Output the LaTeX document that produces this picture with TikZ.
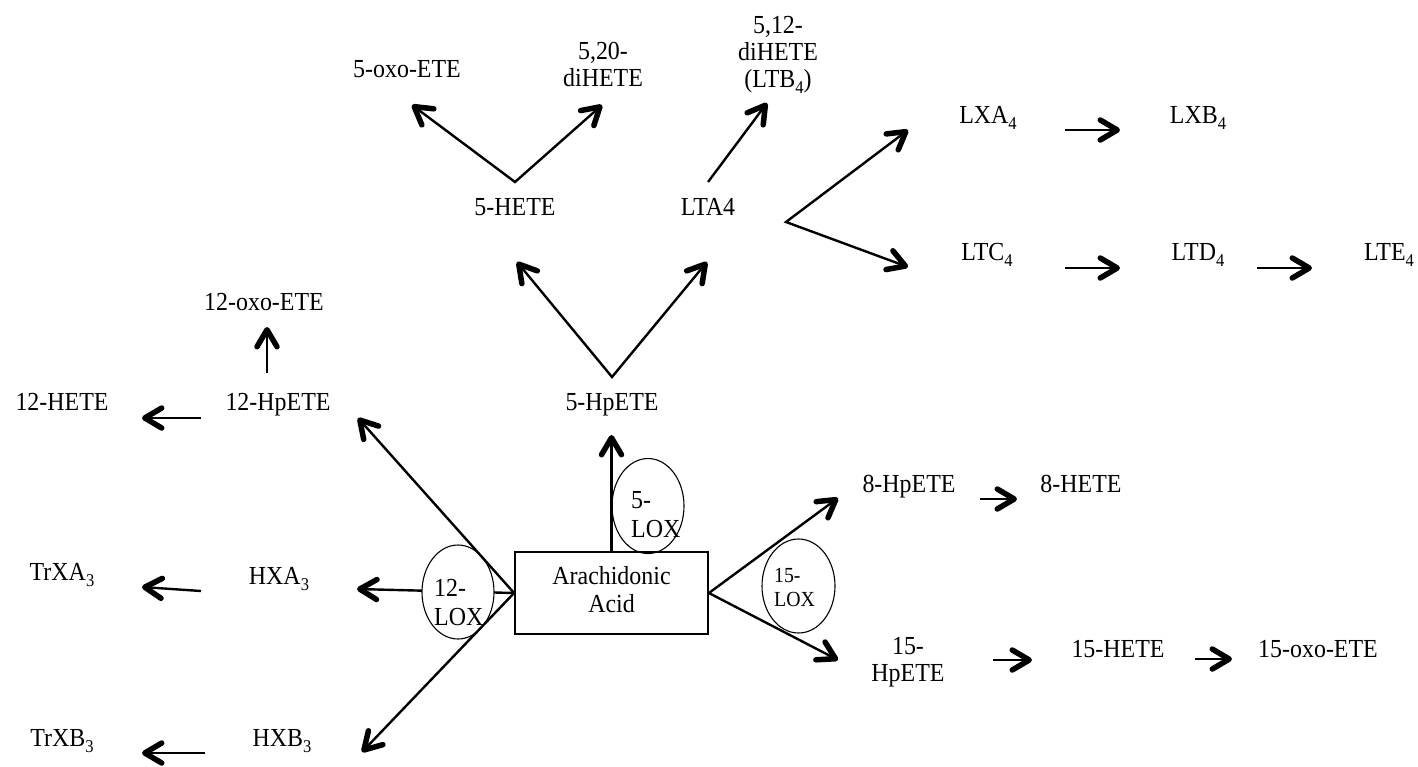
\documentclass[tikz,border=0pt]{standalone}
\usepackage{fontspec}
\setmainfont{Liberation Serif}[FakeStretch=0.92]
\usetikzlibrary{arrows.meta,shapes.geometric}
\newcommand\fA{\fontsize{26}{27}\selectfont}
\newcommand\fL{\fontsize{26}{29}\selectfont}
\newcommand\fS{\fontsize{21.5}{24}\selectfont}
\newcommand\fR{\fontsize{26}{28}\selectfont}
\newcommand\sbs[1]{\raisebox{-6pt}{\fontsize{18}{18}\selectfont #1}}
\begin{document}
\begin{tikzpicture}[x=1pt,y=-1pt,
  >={Straight Barb[length=17pt,width=20pt,line width=5.5pt,round]},
  lbl/.style={inner sep=0pt, align=center, font=\fA},
  loxtxt/.style={inner sep=0pt, align=left, anchor=west, font=\fL},
  lox/.style={draw, ellipse, line width=1.1pt, inner sep=0pt, minimum width=72pt, minimum height=95pt},
  arr/.style={line width=2.4pt, ->},
  varr/.style={line width=2.4pt, <->}]
\path[use as bounding box] (0,0) rectangle (1418,766);

% text nodes
\node[lbl] (oxo5) at (407,71.6) {5-oxo-ETE\strut};
\node[lbl] (dih520) at (603,68) {5,20-\strut\\diHETE\strut};
\node[lbl] (ltb4) at (778,54.6) {5,12-\strut\\diHETE\strut\\(LTB\sbs{4})\strut};
\node[lbl] (hete5) at (515,209.6) {5-HETE\strut};
\node[lbl] (lta4) at (708,209.6) {LTA4\strut};
\node[lbl] (lxa4) at (988,117.6) {LXA\sbs{4}\strut};
\node[lbl] (lxb4) at (1198,117.6) {LXB\sbs{4}\strut};
\node[lbl] (ltc4) at (987,254.6) {LTC\sbs{4}\strut};
\node[lbl] (ltd4) at (1198,254.6) {LTD\sbs{4}\strut};
\node[lbl] (lte4) at (1389,254.6) {LTE\sbs{4}\strut};
\node[lbl] (oxo12) at (264,304.6) {12-oxo-ETE\strut};
\node[lbl] (hete12) at (62,404.6) {12-HETE\strut};
\node[lbl] (hpete12) at (278,404.6) {12-HpETE\strut};
\node[lbl] (hpete5) at (612,404.6) {5-HpETE\strut};
\node[lbl] (trxa3) at (62,574.6) {TrXA\sbs{3}\strut};
\node[lbl] (hxa3) at (279,578.6) {HXA\sbs{3}\strut};
\node[lbl] (trxb3) at (62,740.6) {TrXB\sbs{3}\strut};
\node[lbl] (hxb3) at (282,740.6) {HXB\sbs{3}\strut};
\node[lbl] (hpete8) at (909,486.6) {8-HpETE\strut};
\node[lbl] (hete8) at (1081,486.6) {8-HETE\strut};
\node[lbl] (hpete15) at (908,663) {15-\strut\\HpETE\strut};
\node[lbl] (hete15) at (1118,651.6) {15-HETE\strut};
\node[lbl] (oxo15) at (1318,651.6) {15-oxo-ETE\strut};

% central box
\node[draw, line width=1.8pt, minimum width=193pt, minimum height=82pt, inner sep=0pt,
  align=center, font=\fR] (aa) at (611.5,593) {Arachidonic\strut\\Acid\strut};

% connector end points
\coordinate (t12hp) at (358,418);
\coordinate (thxa) at (357,589);
\coordinate (thxb) at (362,752);
\coordinate (t5hp) at (611.5,435);
\coordinate (t8hp) at (838,498);
\coordinate (t15hp) at (838,660);
\coordinate (v5) at (612,377);
\coordinate (v5l) at (517,262);
\coordinate (v5r) at (707,262);
\coordinate (v4) at (515,182);
\coordinate (v4l) at (412,105);
\coordinate (v4r) at (602,105);
\coordinate (a4s) at (708,182);
\coordinate (a4e) at (767,103);
\coordinate (v6) at (786,222);
\coordinate (v6u) at (908,130);
\coordinate (v6d) at (908,267);
\coordinate (a12us) at (267,373);
\coordinate (a12ue) at (267,327);
\coordinate (a12ls) at (201,418);
\coordinate (a12le) at (142,418);
\coordinate (axas) at (201,591);
\coordinate (axae) at (142,587);
\coordinate (axbs) at (205,753);
\coordinate (axbe) at (142,753);
\coordinate (lxs) at (1065,130);
\coordinate (lxe) at (1120,130);
\coordinate (lcs) at (1065,268);
\coordinate (lce) at (1120,268);
\coordinate (lds) at (1257,268);
\coordinate (lde) at (1312,268);
\coordinate (h8s) at (980,499);
\coordinate (h8e) at (1017,499);
\coordinate (h15s) at (993,660);
\coordinate (h15e) at (1032,660);
\coordinate (o15s) at (1195,659);
\coordinate (o15e) at (1232,659);

% 12-LOX branch (horizontal arrow hidden by the ellipse)
\draw[arr] (aa.west) -- (thxa);
\node[lox, fill=white, minimum height=94pt] (e12) at (458,592) {};
\draw[arr] (aa.west) -- (t12hp);
\draw[arr] (aa.west) -- (thxb);

% other enzyme ellipses
\node[lox] (e5) at (648,506) {};
\node[lox, minimum width=73pt, minimum height=94pt] (e15) at (798.5,586) {};
\node[loxtxt] (t5lox) at (631,517) {5-\strut\\LOX\strut};
\node[loxtxt] (t12lox) at (434,605) {12-\strut\\LOX\strut};
\node[loxtxt, font=\fS] (t15lox) at (774,590) {15-\strut\\LOX\strut};

% arrows from Arachidonic Acid
\draw[arr] (aa.north) -- (t5hp);
\draw[arr] (aa.east) -- (t8hp);
\draw[arr] (aa.east) -- (t15hp);

% 5-LOX pathway
\draw[varr] (v5l) -- (v5) -- (v5r);
\draw[varr] (v4l) -- (v4) -- (v4r);
\draw[arr] (a4s) -- (a4e);
\draw[varr] (v6u) -- (v6) -- (v6d);
\draw[arr] (lxs) -- (lxe);
\draw[arr] (lcs) -- (lce);
\draw[arr] (lds) -- (lde);

% 12-LOX pathway
\draw[arr] (a12us) -- (a12ue);
\draw[arr] (a12ls) -- (a12le);
\draw[arr] (axas) -- (axae);
\draw[arr] (axbs) -- (axbe);

% 15-LOX pathway
\draw[arr] (h8s) -- (h8e);
\draw[arr] (h15s) -- (h15e);
\draw[arr] (o15s) -- (o15e);
\end{tikzpicture}
\end{document}
